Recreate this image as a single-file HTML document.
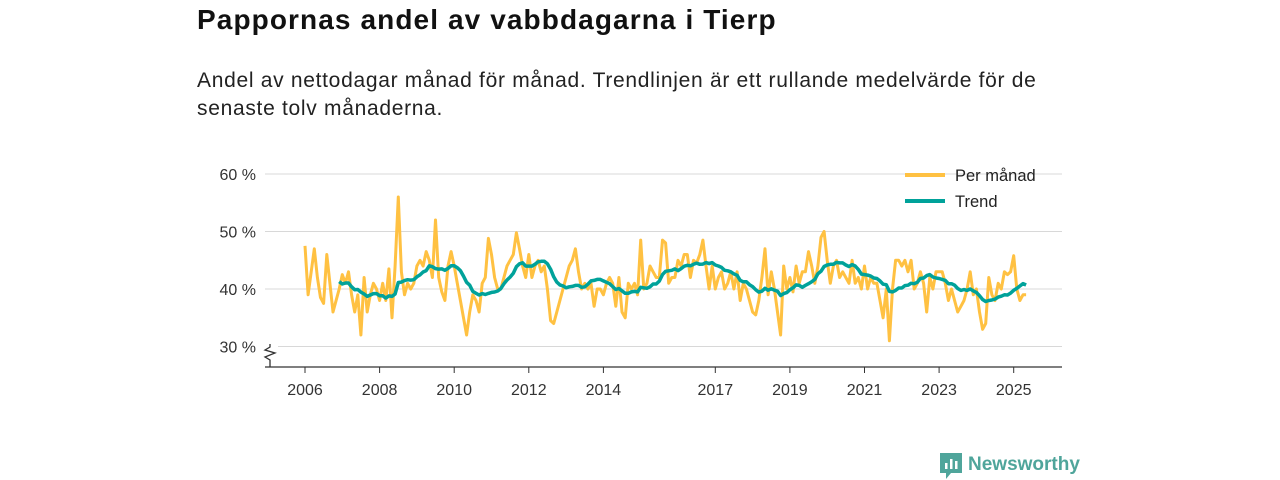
<!DOCTYPE html>
<html><head><meta charset="utf-8"><style>
body{margin:0;background:#fff;font-family:"Liberation Sans","DejaVu Sans",sans-serif;}
#wrap{position:relative;width:1280px;height:480px;overflow:hidden}
h1{position:absolute;left:197px;top:4px;margin:0;font-size:28px;letter-spacing:1.1px;font-weight:bold;color:#111}
p.sub{position:absolute;left:197px;top:67px;margin:0;font-size:21px;letter-spacing:0.7px;line-height:28px;color:#222;width:870px}
</style></head><body><div id="wrap">
<h1>Pappornas andel av vabbdagarna i Tierp</h1>
<p class="sub">Andel av nettodagar månad för månad. Trendlinjen är ett rullande medelvärde för de senaste tolv månaderna.</p>
<svg id="chart" width="1280" height="480" style="position:absolute;left:0;top:0"></svg>
</div>
<script>
const yTicks=[30,40,50,60];
const xTickYears=[2006,2008,2010,2012,2014,2017,2019,2021,2023,2025];
const startYear=2006;
const perMonth=[
47.5,39,43,47,42,38.5,37.5,46,41,36,38,40,
42.5,41,43,39,36,39,32,42,36,39,41,40,
38,41,38,43.5,35,44,56,43,39,41,40,41,
44,45,44,46.5,45,42,52,42,39.5,38,44,46.5,
44,41,38,35,32,36,39,38,36,41,42,48.8,
46,42,40,40,42,44,45,46,49.8,47,44,42,
46,42,44,45,43,44,40,34.5,34,36,38,40,
42,44,45,47,43,40,41,40,41,37,40,40,
39,41,42,41,37,42,36,35,41,40,41,39,
48.5,40,41,44,43,42,42,48.5,48,41,42,42,
45,44,46,46,42,45,44.5,46,48.5,44,40,44,
40,42,43,40,41,43,40,43,38,41,40,38,
36,35.5,38,42,47,39,43,40,36,32,44,40,
42,39.5,44,41,43,43,46.5,44,41,44,49,50,
45,41,44,45,42,43,42,41,45,41,42,40,
44,40,42,41,41,38,35,40,31,40,45,45,
44,45,43,45,40,41,43,41,36,42,40,43,
43,43,41,38,40,38,36,37,38,40,43,39,
40,36,33,34,42,39,38,41,40,43,42.5,43,
45.8,40,38,39,39];
const trend=perMonth.map((v,i)=>{if(i<11)return null;let s=0;for(let k=i-11;k<=i;k++)s+=perMonth[k];return s/12;});

const svg=document.getElementById('chart');const NS='http://www.w3.org/2000/svg';
function X(m){return 305+m*(37.3/12);}
function Y(v){return 289-(v-40)*5.75;}
function el(t,a,txt){const e=document.createElementNS(NS,t);for(const k in a)e.setAttribute(k,a[k]);if(txt!==undefined)e.textContent=txt;svg.appendChild(e);return e;}
yTicks.forEach(t=>{
 const g=el('line',{x1:t>30?265:278,x2:1062,y1:Y(t),y2:Y(t),stroke:'#d8d8d8','stroke-width':1});
 
 
 const l=el('text',{x:256,y:Y(t)+6,'text-anchor':'end','font-size':16,fill:'#333'},t+' %');
 
 
});
const ax=el('path',{d:'M265 367 H1062 M270 367 V360 L265 357 L275 353 L265 350 L270 347 V344',fill:'none',stroke:'#333','stroke-width':1.3});


xTickYears.forEach(yr=>{const x=X((yr-startYear)*12);
 const tk=el('line',{x1:x,x2:x,y1:367,y2:373,stroke:'#333','stroke-width':1});
 
 
 const l=el('text',{x:x,y:395,'text-anchor':'middle','font-size':16,fill:'#333'},yr);
 
 
});
let d='';perMonth.forEach((v,i)=>{d+=(i?'L':'M')+X(i).toFixed(1)+' '+Y(v).toFixed(1);});
const p1=el('path',{d:d,fill:'none',stroke:'#ffc142','stroke-width':3,'stroke-linejoin':'round'});


let d2='';let f=true;trend.forEach((v,i)=>{if(v===null)return;d2+=(f?'M':'L')+X(i).toFixed(1)+' '+Y(v).toFixed(1);f=false;});
const p2=el('path',{d:d2,fill:'none',stroke:'#00a29a','stroke-width':3.5,'stroke-linejoin':'round'});


const lg1=el('line',{x1:905,x2:945,y1:175,y2:175,stroke:'#ffc142','stroke-width':4});


const lt1=el('text',{x:955,y:181,'font-size':16.5,fill:'#222'},'Per månad');


const lg2=el('line',{x1:905,x2:945,y1:201,y2:201,stroke:'#00a29a','stroke-width':4});


const lt2=el('text',{x:955,y:207,'font-size':16.5,fill:'#222'},'Trend');


const lg=el('path',{d:'M940 453 h22 v20 h-11 l-5 6 v-6 h-6 z',fill:'#4fa59b'});


el('rect',{x:945,y:463,width:2.5,height:6,fill:'#fff'});
el('rect',{x:950,y:459,width:2.5,height:10,fill:'#fff'});
el('rect',{x:955,y:461,width:2.5,height:8,fill:'#fff'});
const lgt=el('text',{x:968,y:470,'font-size':19,'font-weight':'bold',fill:'#4fa59b'},'Newsworthy');


</script></body></html>
